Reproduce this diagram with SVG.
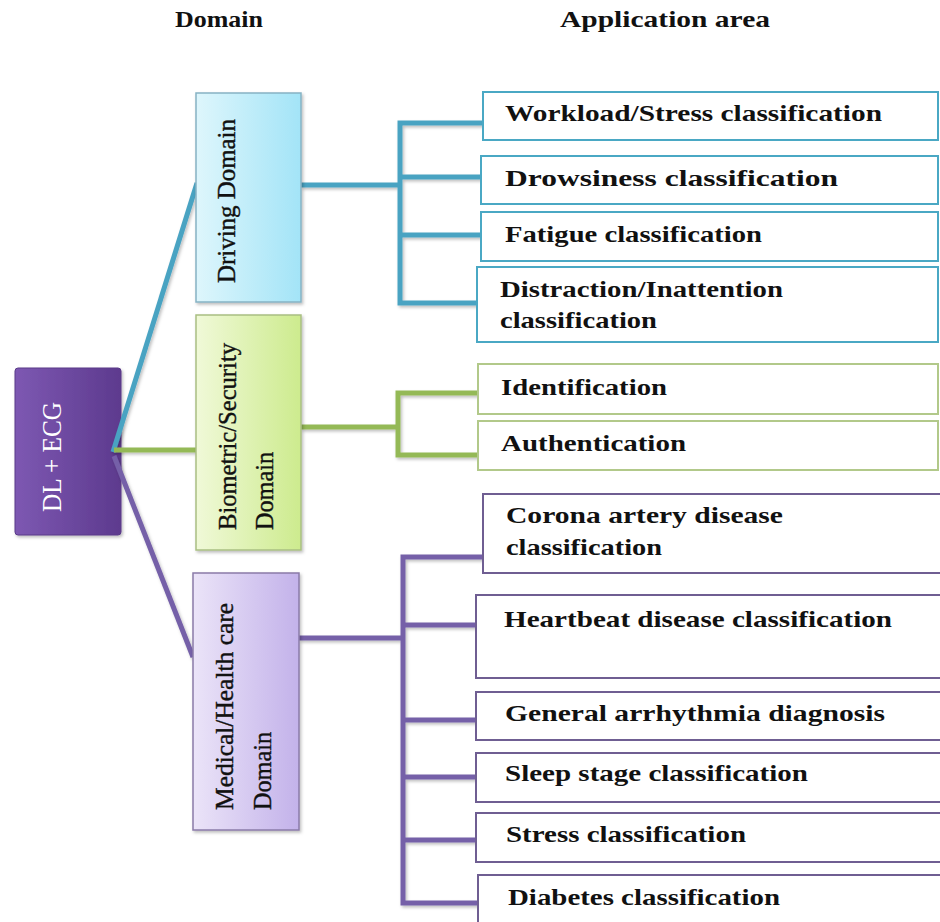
<svg xmlns="http://www.w3.org/2000/svg" width="940" height="922" viewBox="0 0 940 922">
  <defs>
    <linearGradient id="gRoot" x1="0" y1="0" x2="1" y2="0">
      <stop offset="0" stop-color="#7d58b2"/>
      <stop offset="1" stop-color="#5d3a8e"/>
    </linearGradient>
    <linearGradient id="gDrive" x1="0" y1="0" x2="1" y2="0">
      <stop offset="0" stop-color="#def6fc"/>
      <stop offset="1" stop-color="#a3e4f7"/>
    </linearGradient>
    <linearGradient id="gBio" x1="0" y1="0" x2="1" y2="0">
      <stop offset="0" stop-color="#f0f9d8"/>
      <stop offset="1" stop-color="#cdeb8e"/>
    </linearGradient>
    <linearGradient id="gMed" x1="0" y1="0" x2="1" y2="0">
      <stop offset="0" stop-color="#ebe4f8"/>
      <stop offset="1" stop-color="#c3b2ea"/>
    </linearGradient>
    <filter id="shadow" x="-10%" y="-10%" width="130%" height="130%">
      <feDropShadow dx="1.5" dy="2" stdDeviation="1.5" flood-color="#000" flood-opacity="0.25"/>
    </filter>
  </defs>
  <style>
    .hdr { font-family: "Liberation Serif", "Times New Roman", serif; font-weight: bold; font-size: 23px; fill: #111; }
    .app { font-family: "Liberation Serif", "Times New Roman", serif; font-weight: bold; font-size: 22.5px; fill: #111; }
    .dom { font-family: "Liberation Serif", "Times New Roman", serif; font-size: 26px; fill: #111; stroke: #111; stroke-width: 0.4px; }
    .root { font-family: "Liberation Serif", "Times New Roman", serif; font-size: 28px; fill: #fff; }
    .abox { fill: #fff; stroke-width: 2; }
    .blue { stroke: #4aa8c4; }
    .green { stroke: #b2c98a; }
    .purple { stroke: #6f5e92; }
    .lnB { stroke: #4aa3c2; }
    .lnG { stroke: #94b957; }
    .lnP { stroke: #7560a8; }
    #connectors path { fill: none; stroke-width: 5; stroke-linejoin: miter; }
  </style>

  <rect width="940" height="922" fill="#fff"/>

  <!-- column headings -->
  <text class="hdr" x="175" y="27" textLength="88" lengthAdjust="spacingAndGlyphs">Domain</text>
  <text class="hdr" x="560" y="27" textLength="210" lengthAdjust="spacingAndGlyphs">Application area</text>

  <!-- root node -->
  <g id="root">
    <rect x="15" y="368" width="106" height="167" rx="3" fill="url(#gRoot)" stroke="#5a3a88" stroke-width="1" filter="url(#shadow)"/>
    <text class="root" transform="translate(61 457) rotate(-90)" text-anchor="middle" textLength="110" lengthAdjust="spacingAndGlyphs">DL + ECG</text>
  </g>

  <!-- connectors -->
  <g id="connectors" filter="url(#shadow)">
    <!-- root to domains -->
    <path class="lnB" d="M113 452 L197 183"/>
    <path class="lnG" d="M114 450 L196 450"/>
    <path class="lnP" d="M114 456 L193 657"/>
    <!-- driving tree -->
    <path class="lnB" d="M301 185 H400"/>
    <path class="lnB" d="M483 123 H400 V303 H477"/>
    <path class="lnB" d="M400 177 H481"/>
    <path class="lnB" d="M400 235 H481"/>
    <!-- biometric tree -->
    <path class="lnG" d="M301 427 H398"/>
    <path class="lnG" d="M478 393 H398 V455 H478"/>
    <!-- medical tree -->
    <path class="lnP" d="M299 638 H403"/>
    <path class="lnP" d="M483 557 H403 V903 H478"/>
    <path class="lnP" d="M403 625 H476"/>
    <path class="lnP" d="M403 720 H476"/>
    <path class="lnP" d="M403 777 H476"/>
    <path class="lnP" d="M403 840 H476"/>
  </g>

  <!-- domain nodes -->
  <g id="driving">
    <rect x="196" y="93" width="105" height="209" fill="url(#gDrive)" stroke="#86b3c4" stroke-width="1.5" filter="url(#shadow)"/>
    <text class="dom" transform="translate(235 283) rotate(-90)" textLength="164" lengthAdjust="spacingAndGlyphs">Driving Domain</text>
  </g>
  <g id="biometric">
    <rect x="196" y="315" width="105" height="235" fill="url(#gBio)" stroke="#a9bf82" stroke-width="1.5" filter="url(#shadow)"/>
    <text class="dom" transform="translate(236 530) rotate(-90)" textLength="187" lengthAdjust="spacingAndGlyphs">Biometric/Security</text>
    <text class="dom" transform="translate(273 530) rotate(-90)" textLength="78" lengthAdjust="spacingAndGlyphs">Domain</text>
  </g>
  <g id="medical">
    <rect x="193" y="573" width="106" height="257" fill="url(#gMed)" stroke="#8a7ba8" stroke-width="1.5" filter="url(#shadow)"/>
    <text class="dom" transform="translate(233 810) rotate(-90)" textLength="207" lengthAdjust="spacingAndGlyphs">Medical/Health care</text>
    <text class="dom" transform="translate(271 810) rotate(-90)" textLength="78" lengthAdjust="spacingAndGlyphs">Domain</text>
  </g>

  <!-- driving applications -->
  <g id="workload">
    <rect class="abox blue" x="483" y="92" width="455" height="48"/>
    <text class="app" x="505" y="121" textLength="377" lengthAdjust="spacingAndGlyphs">Workload/Stress classification</text>
  </g>
  <g id="drowsiness">
    <rect class="abox blue" x="481" y="156" width="457" height="48"/>
    <text class="app" x="505" y="186" textLength="333" lengthAdjust="spacingAndGlyphs">Drowsiness classification</text>
  </g>
  <g id="fatigue">
    <rect class="abox blue" x="481" y="212" width="457" height="49"/>
    <text class="app" x="505" y="242" textLength="257" lengthAdjust="spacingAndGlyphs">Fatigue classification</text>
  </g>
  <g id="distraction">
    <rect class="abox blue" x="477" y="267" width="461" height="75"/>
    <text class="app" x="500" y="297" textLength="283" lengthAdjust="spacingAndGlyphs">Distraction/Inattention</text>
    <text class="app" x="500" y="328" textLength="157" lengthAdjust="spacingAndGlyphs">classification</text>
  </g>

  <!-- biometric applications -->
  <g id="identification">
    <rect class="abox green" x="478" y="364" width="460" height="50"/>
    <text class="app" x="501" y="395" textLength="166" lengthAdjust="spacingAndGlyphs">Identification</text>
  </g>
  <g id="authentication">
    <rect class="abox green" x="478" y="421" width="460" height="49"/>
    <text class="app" x="501" y="451" textLength="185" lengthAdjust="spacingAndGlyphs">Authentication</text>
  </g>

  <!-- medical applications -->
  <g id="coronary">
    <rect class="abox purple" x="483" y="494" width="460" height="79"/>
    <text class="app" x="506" y="523" textLength="277" lengthAdjust="spacingAndGlyphs">Corona artery disease</text>
    <text class="app" x="506" y="555" textLength="156" lengthAdjust="spacingAndGlyphs">classification</text>
  </g>
  <g id="heartbeat">
    <rect class="abox purple" x="476" y="595" width="467" height="83"/>
    <text class="app" x="504" y="627" textLength="388" lengthAdjust="spacingAndGlyphs">Heartbeat disease classification</text>
  </g>
  <g id="arrhythmia">
    <rect class="abox purple" x="476" y="692" width="467" height="48"/>
    <text class="app" x="505" y="721" textLength="380" lengthAdjust="spacingAndGlyphs">General arrhythmia diagnosis</text>
  </g>
  <g id="sleep">
    <rect class="abox purple" x="476" y="753" width="467" height="49"/>
    <text class="app" x="505" y="781" textLength="303" lengthAdjust="spacingAndGlyphs">Sleep stage classification</text>
  </g>
  <g id="stress">
    <rect class="abox purple" x="476" y="813" width="467" height="49"/>
    <text class="app" x="506" y="842" textLength="240" lengthAdjust="spacingAndGlyphs">Stress classification</text>
  </g>
  <g id="diabetes">
    <rect class="abox purple" x="478" y="875" width="465" height="60"/>
    <text class="app" x="508" y="905" textLength="272" lengthAdjust="spacingAndGlyphs">Diabetes classification</text>
  </g>
</svg>
